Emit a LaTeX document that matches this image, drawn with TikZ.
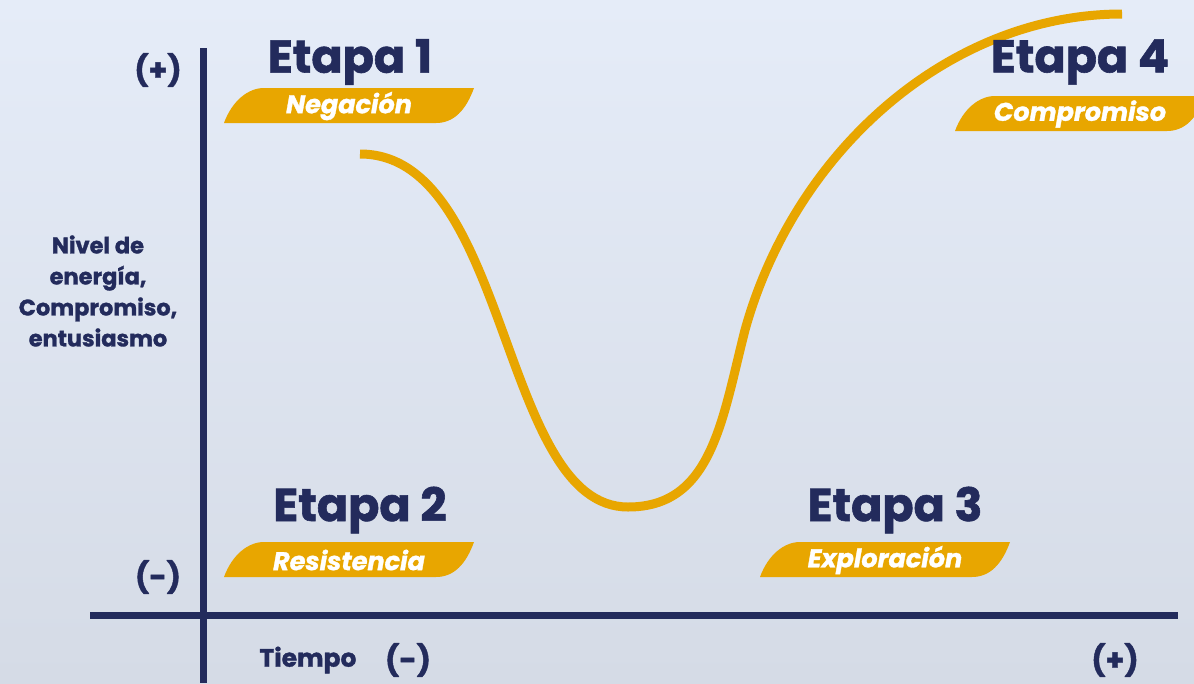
\documentclass[tikz,border=0pt]{standalone}
\usepackage{fontspec}
\setmainfont{Poppins}
\newfontfamily\heavy{Poppins}[UprightFont=* Bold, ItalicFont=* Bold Italic, FakeBold=1.3]
\definecolor{navy}{HTML}{232B5C}
\definecolor{gold}{HTML}{E8A600}
\definecolor{bgtop}{HTML}{E5ECF8}
\definecolor{bgbot}{HTML}{D5DBE6}
\tikzset{
  axis/.style={navy, line width=7pt},
  etapa/.style={text=navy, font=\fontsize{46}{50}\selectfont\heavy, inner sep=0pt, anchor=center},
  badgetext/.style={text=white, font=\fontsize{25.5}{28}\selectfont\heavy\itshape, inner sep=0pt},
  axlabel/.style={text=navy, font=\fontsize{22.5}{31}\selectfont\heavy, align=center, inner sep=0pt},
  sign/.style={text=navy, font=\fontsize{30}{34}\selectfont\heavy, inner sep=0pt},
  curve/.style={gold, line width=9pt}
}
\newcommand{\mybadge}[4]{% x, y (bottom-left), name, text
  \fill[gold] (#1,#2) .. controls +(8,-22) and +(-16,0) .. ++(40,-35) -- ++(210,0)
     .. controls +(-8,22) and +(18,0) .. ++(-38,35) -- cycle;
  \node[badgetext] (#3) at (#1+125,#2-17) {#4};
}
\begin{document}
\begin{tikzpicture}[x=1pt,y=-1pt]
\useasboundingbox (0,0) rectangle (1194,683);
\begin{scope}
\clip (0,0) rectangle (1194,683);
\shade[top color=bgtop, bottom color=bgbot] (0,0) rectangle (1194,683);
% axes
\coordinate (ytop) at (203,48);
\coordinate (ybot) at (203,683);
\coordinate (xl) at (90,615);
\coordinate (xr) at (1178,615);
\draw[axis] (ytop) -- (ybot);
\draw[axis] (xl) -- (xr);
% curve
\coordinate (c0) at (360,154);
\coordinate (c1) at (628,507);
\coordinate (c2) at (745,330);
\coordinate (c3) at (1122,14);
\draw[curve] (c0) .. controls (510,154) and (500,507) .. (c1)
  .. controls (712,507) and (722,420) .. (c2)
  .. controls (795,150) and (950,14) .. (c3);
% badges
\mybadge{224}{123}{b1}{Negación}
\mybadge{224}{577}{b2}{Resistencia}
\mybadge{760}{577}{b3}{Exploración}
\mybadge{955}{131}{b4}{Compromiso}
\end{scope}
% headings
\node[etapa] (e1) at (350,62) {Etapa 1};
\node[etapa] (e2) at (360,510) {Etapa 2};
\node[etapa] (e3) at (895,510) {Etapa 3};
\node[etapa] (e4) at (1080,62) {Etapa 4};
% axis labels
\node[sign] (yp) at (158,70) {(+)};
\node[sign] (ym) at (158,577) {(-)};
\node[axlabel] (ylab) at (98,291) {Nivel de\\energía,\\Compromiso,\\entusiasmo};
\node[axlabel, font=\fontsize{25}{30}\selectfont\heavy] (xlab) at (308,660) {Tiempo};
\node[sign] (xm) at (408,660) {(-)};
\node[sign] (xp) at (1115,660) {(+)};
\end{tikzpicture}
\end{document}
